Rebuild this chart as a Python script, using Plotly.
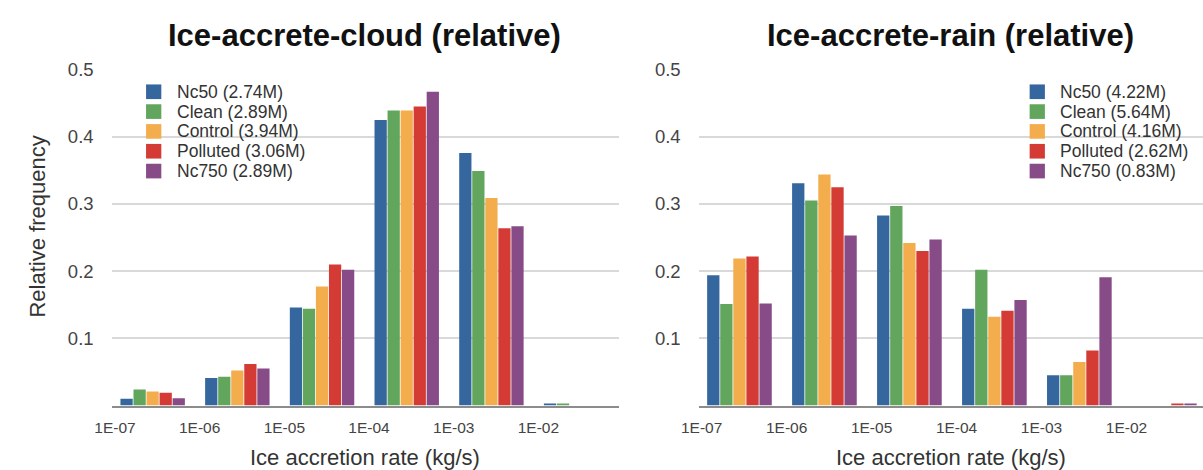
import numpy as np
import plotly.graph_objects as go

W, H = 1203, 470

# ---------------- data ----------------
bin_labels = ["1E-07", "1E-06", "1E-05", "1E-04", "1E-03", "1E-02"]
series = ["Nc50", "Clean", "Control", "Polluted", "Nc750"]
colors = ["#35679e", "#62a55c", "#f4ad4d", "#d53b35", "#874b87"]

cloud_counts = ["2.74M", "2.89M", "3.94M", "3.06M", "2.89M"]
rain_counts = ["4.22M", "5.64M", "4.16M", "2.62M", "0.83M"]

cloud_nc50 = [0.010, 0.041, 0.146, 0.425, 0.376, 0.0015]
cloud_clean = [0.024, 0.043, 0.144, 0.439, 0.349, 0.0015]
cloud_control = [0.021, 0.052, 0.177, 0.439, 0.309, 0.0]
cloud_polluted = [0.019, 0.062, 0.210, 0.445, 0.264, 0.0]
cloud_nc750 = [0.011, 0.055, 0.202, 0.467, 0.267, 0.0]

rain_nc50 = [0.194, 0.331, 0.283, 0.144, 0.045, 0.0]
rain_clean = [0.151, 0.305, 0.297, 0.202, 0.045, 0.0]
rain_control = [0.219, 0.344, 0.242, 0.132, 0.065, 0.0]
rain_polluted = [0.222, 0.325, 0.230, 0.141, 0.082, 0.0015]
rain_nc750 = [0.152, 0.253, 0.247, 0.157, 0.191, 0.0015]

cloud = [cloud_nc50, cloud_clean, cloud_control, cloud_polluted, cloud_nc750]
rain = [rain_nc50, rain_clean, rain_control, rain_polluted, rain_nc750]

y_ticks = [0.1, 0.2, 0.3, 0.4, 0.5]
y_ticktext = ["0.1", "0.2", "0.3", "0.4", "0.5"]

# ---------------- helpers ----------------
FONT = "Liberation Sans, Arial, Helvetica, sans-serif"


def px(x):
    return x / W


def py(y):
    return 1 - y / H


bin_edges = np.arange(len(bin_labels))
bin_pos = bin_edges + 0.445  # bars drawn inside each bin, right of its left edge

fig = go.Figure()
for vals, name, col in zip(cloud, series, colors):
    fig.add_trace(go.Bar(x=bin_pos, y=vals, name=name, marker_color=col,
                         marker_line_width=0, xaxis="x", yaxis="y",
                         showlegend=False))
for vals, name, col in zip(rain, series, colors):
    fig.add_trace(go.Bar(x=bin_pos, y=vals, name=name, marker_color=col,
                         marker_line_width=0, xaxis="x2", yaxis="y2",
                         showlegend=False))

dom_l = [px(95), px(610)]
dom_r = [px(691), 1.0]
dom_y = [py(404), py(60)]

xcommon = dict(tickvals=list(bin_edges), ticktext=bin_labels, showgrid=False,
               zeroline=False, showline=True, linecolor="#8c8c8c", linewidth=2,
               ticks="", ticklabelstandoff=7,
               tickfont=dict(family=FONT, size=15.5, color="#444"))
ycommon = dict(range=[0, 0.5], tickvals=y_ticks, ticktext=y_ticktext,
               showgrid=True, gridcolor="#d9d9d9", gridwidth=1.5,
               zeroline=False, showline=False, ticks="", ticklabelstandoff=17,
               tickfont=dict(family=FONT, size=18.5, color="#444"))

annotations = []
shapes = []
# titles
for cx, txt in [(352, "Ice-accrete-cloud (relative)"), (947, "Ice-accrete-rain (relative)")]:
    annotations.append(dict(x=px(cx), y=py(25), xref="paper", yref="paper",
                            text="<b>" + txt + "</b>", showarrow=False,
                            xanchor="center", yanchor="middle",
                            font=dict(family=FONT, size=31, color="#111")))
    annotations.append(dict(x=px(cx), y=py(457), xref="paper", yref="paper",
                            text="Ice accretion rate (kg/s)", showarrow=False,
                            xanchor="center", yanchor="middle",
                            font=dict(family=FONT, size=22, color="#333")))
annotations.append(dict(x=px(20), y=py(221), xref="paper", yref="paper",
                        text="Relative frequency", showarrow=False, textangle=-90,
                        xanchor="center", yanchor="middle",
                        font=dict(family=FONT, size=22, color="#333")))

# legends
for sq_left, counts in [(130, cloud_counts), (1027, rain_counts)]:
    for k, (name, col, cnt) in enumerate(zip(series, colors, counts)):
        cy = 82.7 + 20.3 * k
        shapes.append(dict(type="rect", xref="paper", yref="paper",
                           x0=px(sq_left), x1=px(sq_left + 15.5),
                           y0=py(cy + 7.5), y1=py(cy - 7.5),
                           fillcolor=col, line_width=0))
        annotations.append(dict(x=px(sq_left + 29), y=py(cy), xref="paper", yref="paper",
                                text=f"{name} ({cnt})", showarrow=False,
                                xanchor="left", yanchor="middle",
                                font=dict(family=FONT, size=17.5, color="#333")))

fig.update_layout(
    width=W, height=H,
    margin=dict(l=0, r=0, t=0, b=0),
    paper_bgcolor="white", plot_bgcolor="white",
    barmode="group", bargap=0.23, bargroupgap=0.06,
    xaxis=dict(domain=dom_l, range=[-0.04, 5.95], anchor="y", **xcommon),
    yaxis=dict(domain=dom_y, anchor="x", **ycommon),
    xaxis2=dict(domain=dom_r, range=[-0.035, 5.9], anchor="y2", **xcommon),
    yaxis2=dict(domain=dom_y, anchor="x2", **ycommon),
    annotations=annotations, shapes=shapes,
    showlegend=False,
)

fig.write_html("out.html")
